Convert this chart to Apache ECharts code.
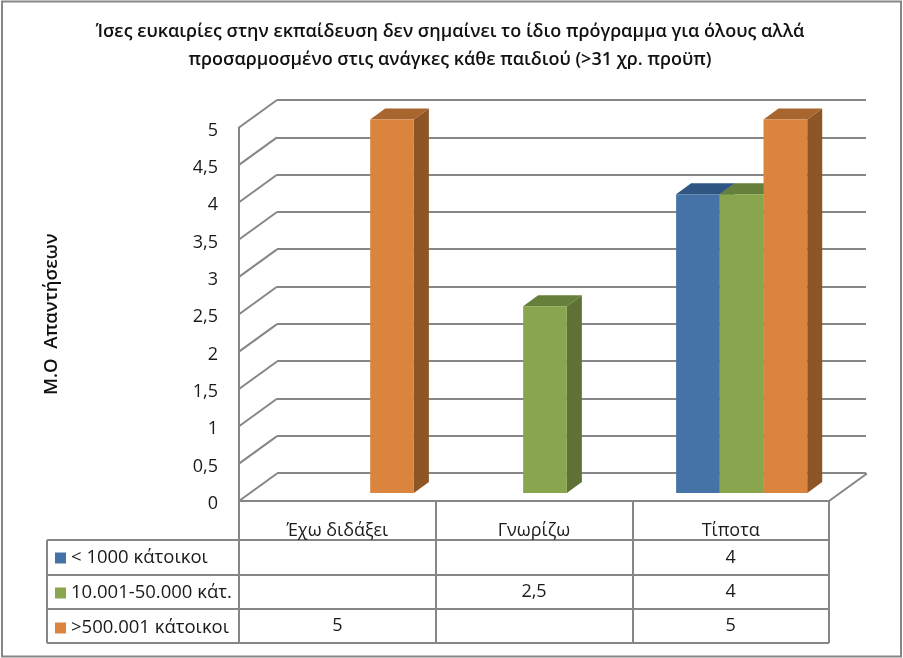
<!DOCTYPE html>
<html>
<head>
<meta charset="utf-8">
<title>chart</title>
<style>
  html, body { margin: 0; padding: 0; background: #fff; }
  #main { width: 903px; height: 658px; }
</style>
<script src="https://cdn.jsdelivr.net/npm/echarts@6/dist/echarts.min.js"></script>
</head>
<body>
<div id="main"></div>
<script>
const categories = ['Έχω διδάξει', 'Γνωρίζω', 'Τίποτα']
const seriesNames = ['< 1000 κάτοικοι', '10.001-50.000 κάτ.', '>500.001 κάτοικοι']
const under1000 = [null, null, 4]
const from10to50k = [null, 2.5, 4]
const over500k = [5, null, 5]
const yTicks = [0, 0.5, 1, 1.5, 2, 2.5, 3, 3.5, 4, 4.5, 5]
const titleText = 'Ίσες ευκαιρίες στην εκπαίδευση δεν σημαίνει το ίδιο πρόγραμμα για όλους αλλά\nπροσαρμοσμένο στις ανάγκες κάθε παιδιού (>31 χρ. προϋπ)'
const yName = 'Μ.Ο  Απαντήσεων'

const FONT = '"Open Sans"'
const TEXT = '#1a1a1a'
const LINE = '#868686'
const faces = [
  { front: '#4573a7', top: '#2f5683', side: '#2f5683' },
  { front: '#89a54e', top: '#66803c', side: '#5e7236' },
  { front: '#db843d', top: '#a8652d', side: '#8e5527' }
]
// 3d offsets: wall depth, bar position inside the floor, bar own depth
const WALL_DX = 38, WALL_DY = 27.5
const BAR_X = 11, BAR_Y = 8, BAR_DX = 15, BAR_DY = 11
const ROW_Y = [557.5, 592, 626]

const fmt = v => String(v).replace('.', ',')

const barSeries = (name, values, idx) => ({
  name,
  type: 'custom',
  xAxisIndex: 0,
  yAxisIndex: 0,
  z: 5 + idx,
  itemStyle: { color: faces[idx].front },
  encode: { x: 0, y: 1 },
  data: values.map((v, i) => [i, v]).filter(d => d[1] !== null),
  renderItem: (params, api) => {
    const cat = api.value(0)
    const base = api.coord([cat, 0])
    const tip = api.coord([cat, api.value(1)])
    const w = api.size([1, 0])[0] * 0.2222
    const x0 = base[0] + BAR_X + (idx - 1.5) * w
    const x1 = x0 + w
    const y0 = base[1] - BAR_Y
    const y1 = tip[1] - BAR_Y
    const f = faces[idx]
    return {
      type: 'group',
      children: [
        { type: 'polygon', shape: { points: [[x1, y0], [x1 + BAR_DX, y0 - BAR_DY], [x1 + BAR_DX, y1 - BAR_DY], [x1, y1]] }, style: { fill: f.side } },
        { type: 'polygon', shape: { points: [[x0, y1], [x0 + BAR_DX, y1 - BAR_DY], [x1 + BAR_DX, y1 - BAR_DY], [x1, y1]] }, style: { fill: f.top } },
        { type: 'rect', shape: { x: x0, y: y1, width: w, height: y0 - y1 }, style: { fill: f.front } }
      ]
    }
  }
})

// diagonal lines joining the front axis and the back wall
const wallSeries = {
  type: 'custom',
  silent: true,
  xAxisIndex: 0,
  yAxisIndex: 0,
  z: 1,
  encode: { y: 1 },
  data: yTicks.map(t => [0, t]),
  renderItem: (params, api) => {
    const t = api.value(1)
    const sys = params.coordSys
    const y = api.coord([0, t])[1]
    const lineStyle = { stroke: LINE, lineWidth: 2, fill: null }
    const children = [
      { type: 'line', shape: { x1: sys.x, y1: y, x2: sys.x + WALL_DX, y2: y - WALL_DY }, style: lineStyle }
    ]
    if (t === 0) {
      children.push({ type: 'line', shape: { x1: sys.x + sys.width, y1: y, x2: sys.x + sys.width + WALL_DX, y2: y - WALL_DY }, style: lineStyle })
    }
    return { type: 'group', children }
  }
}

// values of the data table under the chart
const cellData = []
;[under1000, from10to50k, over500k].forEach((vals, row) => {
  vals.forEach((v, cat) => {
    if (v !== null) cellData.push([cat, row, v])
  })
})
const cellSeries = {
  type: 'custom',
  silent: true,
  xAxisIndex: 0,
  yAxisIndex: 0,
  z: 10,
  data: cellData,
  encode: { x: 0 },
  renderItem: (params, api) => ({
    type: 'text',
    style: {
      x: api.coord([api.value(0), 0])[0],
      y: ROW_Y[api.value(1)],
      text: fmt(api.value(2)),
      align: 'center',
      verticalAlign: 'middle',
      fill: TEXT,
      font: '18px ' + FONT
    }
  })
}

const hline = (x1, x2, y) => ({
  type: 'line',
  shape: { x1, y1: y, x2, y2: y },
  style: { stroke: LINE, lineWidth: 2 }
})

const chartInstance = echarts.init(document.getElementById('main'))
chartInstance.setOption({
  animation: false,
  backgroundColor: '#fff',
  textStyle: { fontFamily: FONT },
  title: {
    text: titleText,
    left: 445,
    top: 13,
    textAlign: 'center',
    textStyle: { fontFamily: FONT, fontSize: 18, fontWeight: 600, color: '#111', lineHeight: 28 }
  },
  legend: {
    orient: 'vertical',
    left: 50,
    top: 543.5,
    itemWidth: 11,
    itemHeight: 11,
    itemGap: 16,
    padding: 5,
    selectedMode: false,
    icon: 'rect',
    data: seriesNames,
    textStyle: { fontFamily: FONT, fontSize: 18.5, color: TEXT }
  },
  grid: [
    { left: 239, top: 127.5, width: 590, height: 373.5 },
    { left: 277, top: 100, width: 589, height: 373 }
  ],
  xAxis: [
    {
      type: 'category',
      gridIndex: 0,
      data: categories,
      axisLine: { show: true, lineStyle: { color: LINE, width: 2 } },
      axisTick: { show: true, length: 142, lineStyle: { color: LINE, width: 2 } },
      axisLabel: { margin: 21, fontFamily: FONT, fontSize: 18, color: TEXT }
    },
    {
      type: 'category',
      gridIndex: 1,
      data: categories,
      axisLine: { show: false },
      axisTick: { show: false },
      axisLabel: { show: false }
    }
  ],
  yAxis: [
    {
      type: 'value',
      gridIndex: 0,
      min: 0,
      max: 5,
      interval: 0.5,
      name: yName,
      nameLocation: 'middle',
      nameGap: 178,
      nameRotate: 90,
      nameTextStyle: { fontFamily: FONT, fontSize: 18.5, fontWeight: 600, color: '#111' },
      axisLine: { show: true, lineStyle: { color: LINE, width: 2 } },
      axisTick: { show: false },
      splitLine: { show: false },
      axisLabel: {
        margin: 21,
        color: TEXT,
        formatter: v => `{t|${fmt(v)}}`,
        rich: { t: { fontFamily: FONT, fontSize: 18, color: TEXT, padding: [6, 0, 0, 0] } }
      }
    },
    {
      type: 'value',
      gridIndex: 1,
      min: 0,
      max: 5,
      interval: 0.5,
      axisLine: { show: false },
      axisTick: { show: false },
      axisLabel: { show: false },
      splitLine: { show: true, lineStyle: { color: LINE, width: 2 } }
    }
  ],
  graphic: [
    { type: 'rect', shape: { x: 2, y: 1.5, width: 899, height: 655 }, style: { fill: null, stroke: LINE, lineWidth: 2 }, silent: true },
    hline(47, 829, 540),
    hline(47, 829, 575),
    hline(47, 829, 609),
    hline(47, 829, 643),
    { type: 'line', shape: { x1: 47, y1: 540, x2: 47, y2: 643 }, style: { stroke: LINE, lineWidth: 2 } }
  ],
  series: [
    wallSeries,
    barSeries(seriesNames[0], under1000, 0),
    barSeries(seriesNames[1], from10to50k, 1),
    barSeries(seriesNames[2], over500k, 2),
    cellSeries
  ]
})
</script>
</body>
</html>
